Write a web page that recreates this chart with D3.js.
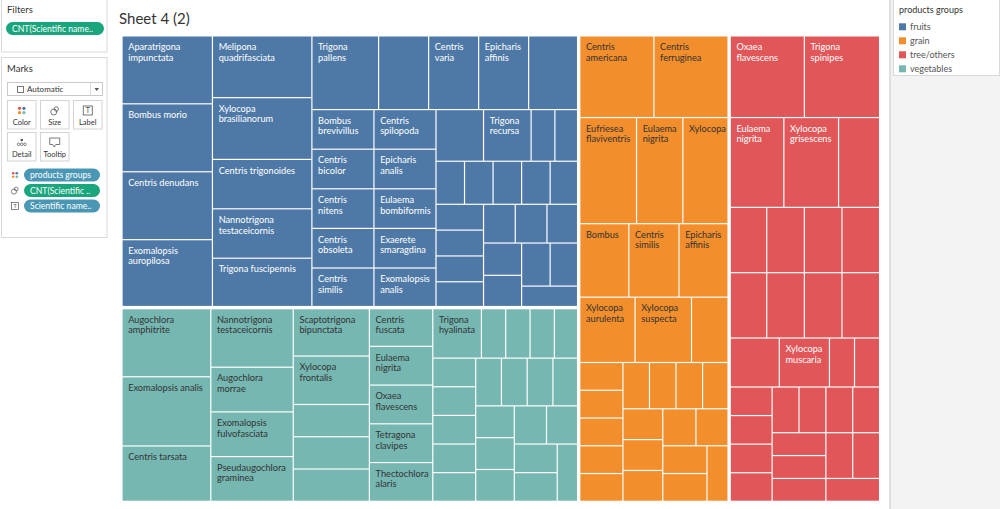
<!DOCTYPE html>
<html><head><meta charset="utf-8">
<script src="https://cdn.jsdelivr.net/npm/d3@7"></script>
<style>
body{margin:0;background:#f3f3f3;font-family:Lato,"Open Sans",sans-serif;}
svg{display:block}
</style></head><body>
<svg id="c" width="1000" height="509"></svg>
<script>
// ---------- DATA ----------
const groupNames = ["fruits", "grain", "tree/others", "vegetables"];   // legend order
const groupColors = ["#4e79a7", "#f28e2b", "#e15759", "#76b7b2"];
const groupTextColors = ["#ffffff", "#333333", "#ffffff", "#333333"];

const fruitsNames = ["Aparatrigona impunctata","Bombus morio","Centris denudans","Exomalopsis auropilosa","Melipona quadrifasciata","Xylocopa brasilianorum",
  "Centris trigonoides","Nannotrigona testaceicornis","Trigona fuscipennis","Trigona pallens",
  "","Centris varia","Epicharis affinis","",
  "Bombus brevivillus","Centris bicolor","Centris nitens","Centris obsoleta","Centris similis","Centris spilopoda","Epicharis analis","Eulaema bombiformis","Exaerete smaragdina","Exomalopsis analis","","Trigona recursa",
  "","","","","","","","","","","","","","","","","","",""];
const fruitsCounts = [5,5,5,5,5,5, 4,4,4,4, 3,3,3,3, 2,2,2,2,2,2,2,2,2,2,2,2,
  1,1,1,1,1,1,1,1,1,1,1,1,1,1,1,1,1,1,1];

const vegetablesNames = ["Augochlora amphitrite","Exomalopsis analis","Centris tarsata","Nannotrigona testaceicornis",
  "Augochlora morrae","Exomalopsis fulvofasciata","Pseudaugochlora graminea","Scaptotrigona bipunctata","Xylocopa frontalis",
  "","","","Centris fuscata","Eulaema nigrita","Oxaea flavescens","Tetragona clavipes","Thectochlora alaris","Trigona hyalinata",
  "","","","","","","","","","","","","","","","","","","","",""];
const vegetablesCounts = [5,5,4,4, 3,3,3,3,3, 2,2,2,2,2,2,2,2,2,
  1,1,1,1,1,1,1,1,1,1,1,1,1,1,1,1,1,1,1,1,1];

const grainNames = ["Centris americana","Centris ferruginea","Eufriesea flaviventris","Eulaema nigrita","Xylocopa",
  "Bombus","Centris similis","Epicharis affinis","Xylocopa aurulenta","Xylocopa suspecta","",
  "","","","","","","","","","","","","","","","",""];
const grainCounts = [5,5,5,4,4, 3,3,3,3,3,2,
  1,1,1,1,1,1,1,1,1,1,1,1,1,1,1,1,1];

const treeNames = ["Oxaea flavescens","Trigona spinipes","Eulaema nigrita","Xylocopa grisescens","",
  "","","","","","","","","","Xylocopa muscaria",
  "","","","","","","","","","","","","","","",""];
const treeCounts = [5,5,4,4,3, 2,2,2,2,2,2,2,2,2,2,
  1,1,1,1,1,1,1,1,1,1,1,1,1,1,1,1];

// ---------- BUILD ----------
const svg = d3.select("#c");
const groupData = [
  {name:"fruits", names:fruitsNames, counts:fruitsCounts},
  {name:"vegetables", names:vegetablesNames, counts:vegetablesCounts},
  {name:"grain", names:grainNames, counts:grainCounts},
  {name:"tree/others", names:treeNames, counts:treeCounts}
];
const color = d3.scaleOrdinal().domain(groupNames).range(groupColors);
const textColor = d3.scaleOrdinal().domain(groupNames).range(groupTextColors);

const rootData = {name:"root", children: groupData.map(g => ({
  name: g.name,
  children: g.names.map((n,i) => ({name:n, value:g.counts[i], group:g.name}))
}))};

const X0 = 122.0, Y0 = 35.9, X1 = 879.6, Y1 = 501.3;
const root = d3.hierarchy(rootData).sum(d => d.value || 0).sort((a,b) => b.value - a.value);
d3.treemap().tile(d3.treemapSquarify.ratio(1.608)).size([X1 - X0, Y1 - Y0])(root);

// ---------- PAGE CHROME ----------
// left panel
svg.append("rect").attr("x",0).attr("y",0).attr("width",108).attr("height",509).attr("fill","#ffffff");
svg.append("rect").attr("x",1.5).attr("y",-1).attr("width",105.5).attr("height",53).attr("fill","#fff").attr("stroke","#d9d9d9");
svg.append("text").attr("x",7).attr("y",13).attr("font-size",9.5).attr("fill","#333").text("Filters");
function pill(x,y,w,fill,label){
  svg.append("rect").attr("x",x).attr("y",y).attr("width",w).attr("height",13).attr("rx",6.5).attr("fill",fill);
  svg.append("text").attr("x",x+6).attr("y",y+9.6).attr("font-size",8.6).attr("fill","#fff").text(label);
}
pill(6,22,98,"#1aa67c","CNT(Scientific name..");

svg.append("rect").attr("x",1.5).attr("y",57.5).attr("width",105.5).attr("height",180).attr("fill","#fff").attr("stroke","#d9d9d9");
svg.append("text").attr("x",7).attr("y",71.5).attr("font-size",9.5).attr("fill","#333").text("Marks");
svg.append("rect").attr("x",7.5).attr("y",82.5).attr("width",95).attr("height",13).attr("fill","#fff").attr("stroke","#c9c9c9");
svg.append("rect").attr("x",17.5).attr("y",86.5).attr("width",6).attr("height",6).attr("fill","none").attr("stroke","#777");
svg.append("text").attr("x",27).attr("y",92.3).attr("font-size",8).attr("fill","#333").text("Automatic");
svg.append("line").attr("x1",90.5).attr("x2",90.5).attr("y1",83).attr("y2",95).attr("stroke","#ddd");
svg.append("path").attr("d","M94.5,88 L99,88 L96.75,91 Z").attr("fill","#555");

const btns = [["Color",7.5,100.5],["Size",40.5,100.5],["Label",73.5,100.5],["Detail",7.5,132.5],["Tooltip",40.5,132.5]];
btns.forEach(([t,x,y]) => {
  svg.append("rect").attr("x",x).attr("y",y).attr("width",28.5).attr("height",28.5).attr("fill","#fff").attr("stroke","#d3d3d3");
  svg.append("text").attr("x",x+14.25).attr("y",y+24).attr("text-anchor","middle").attr("font-size",7.5).attr("fill","#333").text(t);
  const cx = x+14.25, cy = y+10;
  if (t==="Color") {
    [["#e15759",-2.2,-2.2],["#4e79a7",2.2,-2.2],["#f28e2b",-2.2,2.2],["#76b7b2",2.2,2.2]].forEach(([c,dx,dy]) =>
      svg.append("circle").attr("cx",cx+dx).attr("cy",cy+dy).attr("r",1.6).attr("fill",c));
  } else if (t==="Size") {
    svg.append("circle").attr("cx",cx-1).attr("cy",cy+1.5).attr("r",3).attr("fill","none").attr("stroke","#555").attr("stroke-width",0.8);
    svg.append("circle").attr("cx",cx+1.5).attr("cy",cy-1.5).attr("r",2.2).attr("fill","none").attr("stroke","#555").attr("stroke-width",0.8);
  } else if (t==="Label") {
    svg.append("rect").attr("x",cx-4.5).attr("y",cy-4.5).attr("width",9).attr("height",9).attr("fill","none").attr("stroke","#555").attr("stroke-width",0.8);
    svg.append("text").attr("x",cx).attr("y",cy+2.8).attr("text-anchor","middle").attr("font-size",7).attr("fill","#555").text("T");
  } else if (t==="Detail") {
    svg.append("circle").attr("cx",cx).attr("cy",cy-2.5).attr("r",1.3).attr("fill","#555");
    [-3.2,0,3.2].forEach(dx => svg.append("circle").attr("cx",cx+dx).attr("cy",cy+1.8).attr("r",1.3).attr("fill","none").attr("stroke","#555").attr("stroke-width",0.7));
  } else {
    svg.append("path").attr("d",`M${cx-5},${cy-4.5} h10 v6.5 h-4 l-1.5,2.5 l-1.5,-2.5 h-3 Z`).attr("fill","none").attr("stroke","#555").attr("stroke-width",0.8);
  }
});
// shelf pills
function dotsIcon(x,y){
  [["#e15759",-1.8,-1.8],["#4e79a7",1.8,-1.8],["#f28e2b",-1.8,1.8],["#76b7b2",1.8,1.8]].forEach(([c,dx,dy]) =>
    svg.append("circle").attr("cx",x+dx).attr("cy",y+dy).attr("r",1.3).attr("fill",c));
}
dotsIcon(15,175);
pill(24,168.5,76,"#4a97b5","products groups");
svg.append("circle").attr("cx",14).attr("cy",191.5).attr("r",2.6).attr("fill","none").attr("stroke","#555").attr("stroke-width",0.7);
svg.append("circle").attr("cx",16.2).attr("cy",189).attr("r",1.9).attr("fill","none").attr("stroke","#555").attr("stroke-width",0.7);
pill(24,184,76,"#1aa67c","CNT(Scientific ..");
svg.append("rect").attr("x",11.5).attr("y",202.5).attr("width",7).attr("height",7).attr("fill","none").attr("stroke","#555").attr("stroke-width",0.7);
svg.append("text").attr("x",15).attr("y",208.3).attr("text-anchor","middle").attr("font-size",5.5).attr("fill","#555").text("T");
pill(24,199.5,76,"#4a97b5","Scientific name..");

// main sheet
svg.append("rect").attr("x",108).attr("y",0).attr("width",782).attr("height",509).attr("fill","#ffffff");
svg.append("line").attr("x1",890).attr("x2",890).attr("y1",0).attr("y2",509).attr("stroke","#d6d6d6").attr("stroke-width",1.5);
svg.append("text").attr("x",119).attr("y",23.5).attr("font-size",15).attr("fill","#333").text("Sheet 4 (2)");

// legend
svg.append("rect").attr("x",893.5).attr("y",-1).attr("width",106).attr("height",76.5).attr("fill","#fff").attr("stroke","#d9d9d9");
svg.append("text").attr("x",899).attr("y",13).attr("font-size",9).attr("fill","#333").text("products groups");
const leg = svg.append("g").selectAll("g").data(groupNames).join("g")
  .attr("transform",(d,i) => `translate(899,${23.3 + i*14})`);
leg.append("rect").attr("width",7).attr("height",7).attr("fill",d => color(d));
leg.append("text").attr("x",11).attr("y",6.8).attr("font-size",9).attr("fill","#555").text(d => d);

// ---------- TREEMAP ----------
const g = svg.append("g").attr("transform",`translate(${X0},${Y0})`);
const W = X1 - X0, H = Y1 - Y0;
const LEAF_INSET = 0.6, GROUP_INSET = 1.1;
const ctx = document.createElement("canvas").getContext("2d");
const FONT_SIZE = 9.2;
ctx.font = `${FONT_SIZE}px Lato`;

const leaves = root.leaves().map(l => {
  const p = l.parent;
  const gx0 = p.x0 + (p.x0 > 0.5 ? GROUP_INSET : 0);
  const gy0 = p.y0 + (p.y0 > 0.5 ? GROUP_INSET : 0);
  const gx1 = p.x1 - (p.x1 < W - 0.5 ? GROUP_INSET : 0);
  const gy1 = p.y1 - (p.y1 < H - 0.5 ? GROUP_INSET : 0);
  const x0 = Math.max(l.x0, gx0) + LEAF_INSET, y0 = Math.max(l.y0, gy0) + LEAF_INSET;
  const x1 = Math.min(l.x1, gx1) - LEAF_INSET, y1 = Math.min(l.y1, gy1) - LEAF_INSET;
  return {d:l.data, x0, y0, x1, y1};
});

const cells = g.selectAll("g.cell").data(leaves).join("g").attr("class","cell");
cells.append("rect")
  .attr("x",d => d.x0).attr("y",d => d.y0)
  .attr("width",d => Math.max(0, d.x1 - d.x0)).attr("height",d => Math.max(0, d.y1 - d.y0))
  .attr("fill",d => color(d.d.group));

function wrap(name, maxW){
  const words = name.split(" ");
  const lines = []; let cur = "";
  words.forEach(w => {
    const test = cur ? cur + " " + w : w;
    if (!cur || ctx.measureText(test).width <= maxW) cur = test;
    else { lines.push(cur); cur = w; }
  });
  if (cur) lines.push(cur);
  return lines;
}
cells.filter(d => d.d.name).each(function(d){
  const lines = wrap(d.d.name, d.x1 - d.x0 - 12);
  const t = d3.select(this).append("text")
    .attr("font-size",FONT_SIZE).attr("fill",textColor(d.d.group));
  lines.forEach((ln,i) => t.append("tspan").attr("x",d.x0 + 5.6).attr("y",d.y0 + 13.6 + i*10.6).text(ln));
});
</script>
</body></html>
